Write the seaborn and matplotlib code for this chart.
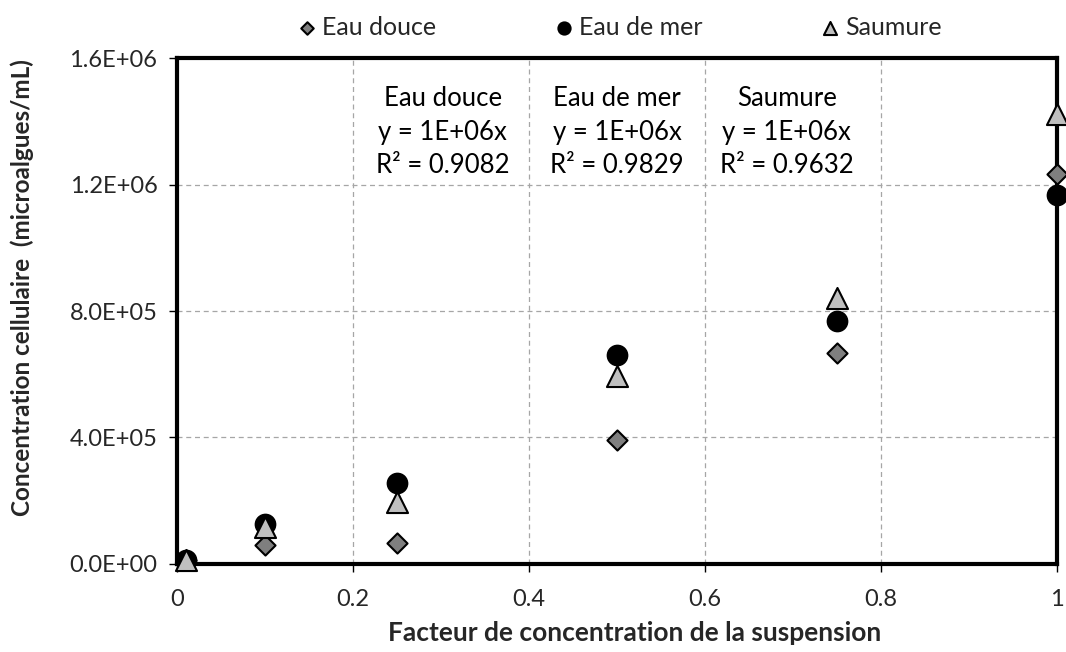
import matplotlib
matplotlib.use("Agg")
import matplotlib.pyplot as plt
import matplotlib.ticker as mticker
import seaborn as sns
import pandas as pd

# ---- data ----
facteur = [0.01, 0.1, 0.25, 0.5, 0.75, 1.0]
eau_douce = [12000, 60000, 66000, 392000, 668000, 1232000]
eau_de_mer = [14000, 128000, 257000, 660000, 768000, 1168000]
saumure = [13000, 118000, 196000, 594000, 841000, 1423000]
series_names = ["Eau douce", "Eau de mer", "Saumure"]
annotations = [
    ("Eau douce", "y = 1E+06x", "R² = 0.9082"),
    ("Eau de mer", "y = 1E+06x", "R² = 0.9829"),
    ("Saumure", "y = 1E+06x", "R² = 0.9632"),
]
x_ticks = [0, 0.2, 0.4, 0.6, 0.8, 1]
y_ticks = [0, 4e5, 8e5, 1.2e6, 1.6e6]
xlabel = "Facteur de concentration de la suspension"
ylabel = "Concentration cellulaire  (microalgues/mL)"

df = pd.DataFrame({
    "x": facteur * 3,
    "y": eau_douce + eau_de_mer + saumure,
    "serie": [s for s in series_names for _ in facteur],
})

sns.set_style("white")
plt.rcParams["font.family"] = ["Lato", "DejaVu Sans"]

fig = plt.figure(figsize=(10.66, 6.52), dpi=100)
ax = fig.add_axes([0.166, 0.135, 0.8256, 0.776])

styles = {
    "Eau douce": dict(marker="D", s=105, color="#7f7f7f"),
    "Eau de mer": dict(marker="o", s=200, color="#000000"),
    "Saumure": dict(marker="^", s=230, color="#bfbfbf"),
}
for i, name in enumerate(series_names):
    st = styles[name]
    sns.scatterplot(data=df[df["serie"] == name], x="x", y="y", ax=ax,
                    marker=st["marker"], s=st["s"], color=st["color"],
                    edgecolor="black", linewidth=1.5, label=name,
                    zorder=3 + i, clip_on=False)

ax.set_xlim(0, 1)
ax.set_ylim(0, 1.6e6)
ax.set_xticks(x_ticks)
ax.set_yticks(y_ticks)
ax.xaxis.set_major_formatter(mticker.FuncFormatter(lambda v, p: f"{v:g}"))
ax.yaxis.set_major_formatter(mticker.FuncFormatter(lambda v, p: f"{v:.1E}"))
ax.tick_params(axis="both", direction="out", length=6, width=1, color="black",
               labelsize=17, pad=8, left=True, bottom=True)
ax.tick_params(axis="x", pad=12)
ax.grid(True, linestyle=(0, (4, 3)), color="#a6a6a6", linewidth=0.9)
for sp in ax.spines.values():
    sp.set_visible(True)
    sp.set_color("black")
    sp.set_linewidth(3)

ax.set_xlabel(xlabel, fontsize=19, fontweight="bold")
ax.set_ylabel(ylabel, fontsize=17.5, fontweight="bold")
ax.xaxis.set_label_coords(0.52, -0.112)
ax.yaxis.set_label_coords(-0.163, 0.547)

ann_x = [0.302, 0.5, 0.693]
for xx, lines in zip(ann_x, annotations):
    ax.text(xx, 1.366e6, "\n".join(lines), ha="center", va="center",
            fontsize=18.5, linespacing=1.42, color="black", zorder=6)

ax.get_legend().remove()
handles, labels = ax.get_legend_handles_labels()
fig.legend(handles, labels, loc="center", bbox_to_anchor=(0.580, 0.958),
           ncol=3, frameon=False, fontsize=18, handletextpad=0.1,
           handlelength=1.0, columnspacing=4.6, markerscale=0.62)

fig.savefig("out.png", dpi=100)
